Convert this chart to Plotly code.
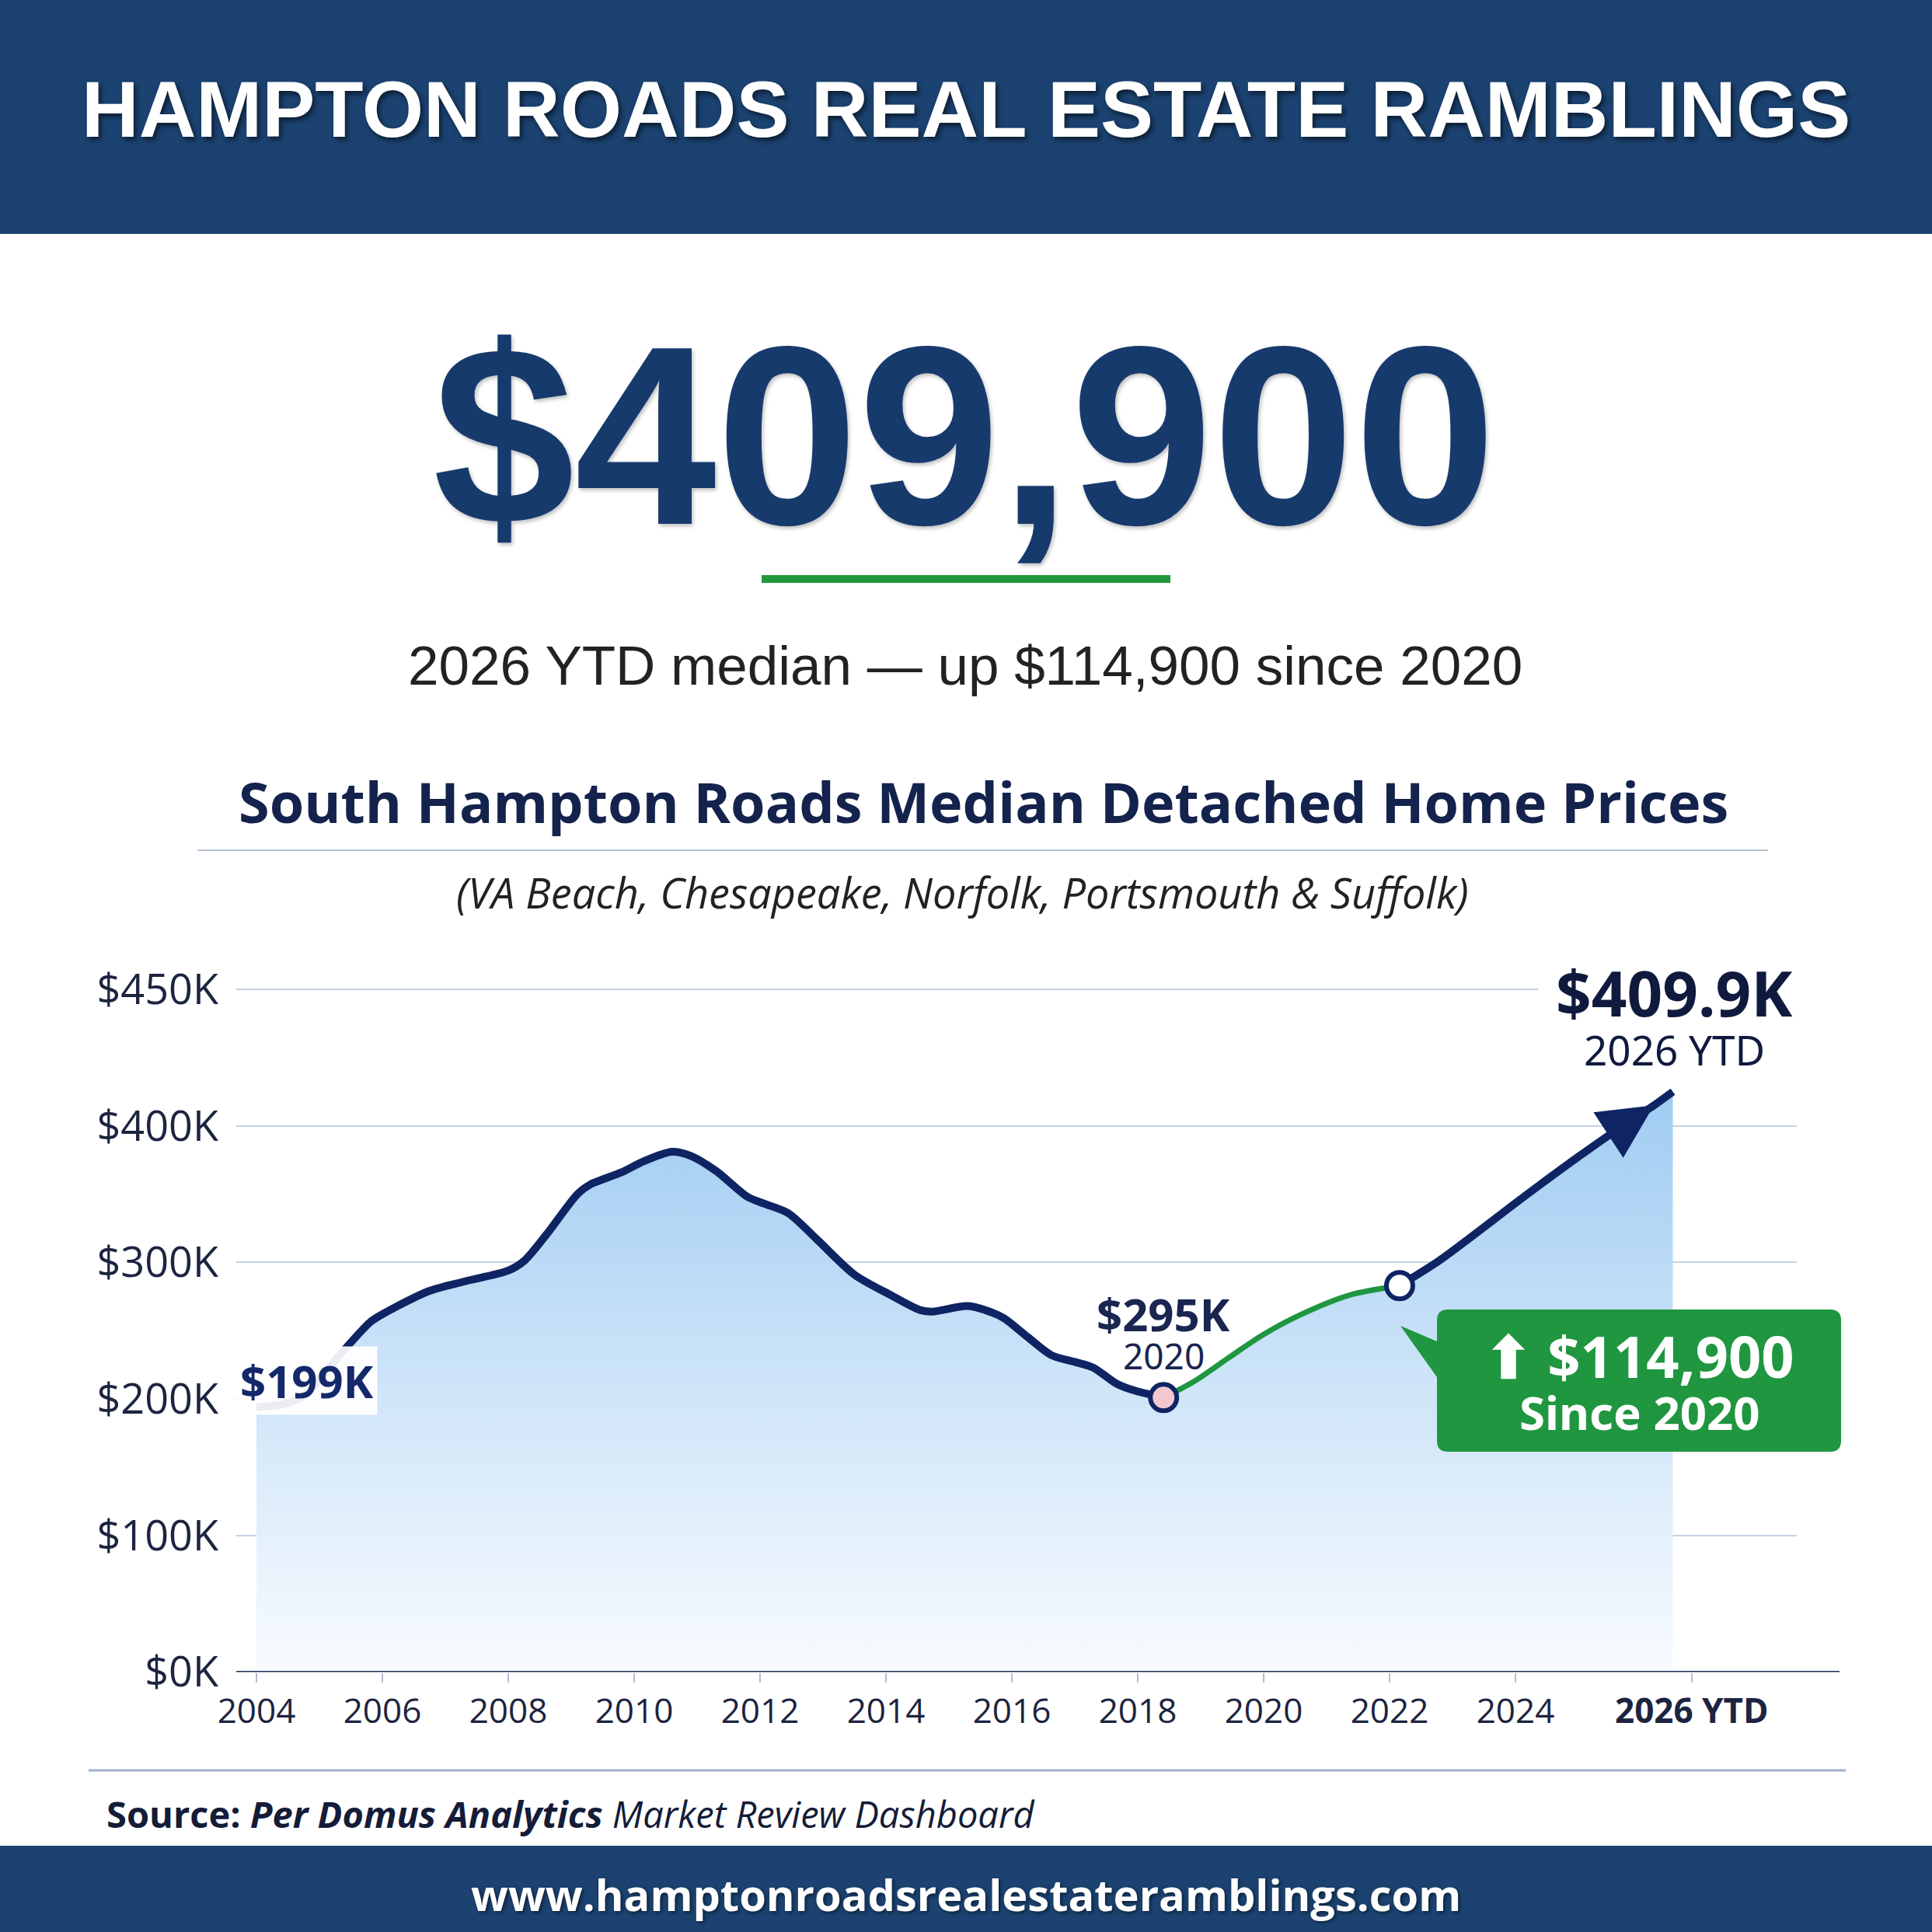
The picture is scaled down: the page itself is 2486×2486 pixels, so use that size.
import plotly.graph_objects as go

W = H = 2486

# Median detached price (y in chart units: the $450K line sits at 500)
years = [2004.0, 2004.4, 2004.75, 2005.3, 2005.8, 2006.0, 2006.74, 2007.3, 2008.0, 2008.25,
         2008.6, 2009.1, 2009.3, 2009.8, 2010.15, 2010.6, 2010.9, 2011.3, 2011.8, 2012.07,
         2012.45, 2012.9, 2013.5, 2014.08, 2014.55, 2014.74, 2015.3, 2015.7, 2015.88, 2016.26,
         2016.63, 2017.01, 2017.29, 2017.67, 2017.96, 2018.41, 2018.9, 2019.47, 2019.99, 2020.6,
         2021.36, 2022.16, 2022.78, 2023.25, 2024.19, 2025.14, 2025.9, 2026.2, 2026.5]
values = [194, 196, 202, 231, 256, 262, 279, 286, 294, 301,
          320, 350, 357, 366, 374, 381, 378, 367, 348, 343,
          336, 317, 291, 276, 265, 264, 268, 263, 259, 245,
          232, 227, 223, 211, 206, 201, 213, 231, 247, 262,
          276, 283, 301, 317, 350, 382, 406, 415, 425]

i_low = years.index(2018.41)   # "$295K 2020" marker
i_mid = years.index(2022.16)   # white marker
i_arrow = years.index(2026.2)

x_ticks = [2004, 2006, 2008, 2010, 2012, 2014, 2016, 2018, 2020, 2022, 2024, 2026.8]
x_labels = ["2004", "2006", "2008", "2010", "2012", "2014", "2016", "2018", "2020",
            "2022", "2024", "<b>2026 YTD</b>"]
y_ticks = [0, 100, 200, 300, 400, 500]
y_labels = ["$0K", "$100K", "$200K", "$300K", "$400K", "$450K"]

header = "HAMPTON ROADS REAL ESTATE RAMBLINGS"
headline = "$409,900"
subline = "2026 YTD median \u2014 up $114,900 since 2020"
chart_title = "South Hampton Roads Median Detached Home Prices"
region = "(VA Beach, Chesapeake, Norfolk, Portsmouth & Suffolk)"
start_label = "$199K"
low_label, low_year = "$295K", "2020"
end_label, end_year = "$409.9K", "2026 YTD"
gain_label, gain_sub = "\u2B06 $114,900", "Since 2020"
source = "<b>Source:</b> <b><i>Per Domus Analytics</i></b> <i>Market Review Dashboard</i>"
site = "www.hamptonroadsrealestateramblings.com"

NAVY = "#0f2463"
GREEN = "#1f963f"
BAND = "#1b4270"


def px(x):
    return x / W


def py(y):
    return 1 - y / H


fig = go.Figure()

# area fill
fig.add_trace(go.Scatter(
    x=years, y=values, mode="lines", line=dict(width=0, shape="spline", smoothing=0.8),
    fill="tozeroy",
    fillgradient=dict(type="vertical", start=0, stop=430,
                      colorscale=[[0, "#f8fbff"], [0.5, "#cde4f8"], [1, "#9ecbf2"]]),
    hoverinfo="skip", showlegend=False))

# line segments
fig.add_trace(go.Scatter(
    x=years[:i_low + 1], y=values[:i_low + 1], mode="lines",
    line=dict(color=NAVY, width=10, shape="spline", smoothing=0.8),
    hoverinfo="skip", showlegend=False))
fig.add_trace(go.Scatter(
    x=years[i_low:i_mid + 1], y=values[i_low:i_mid + 1], mode="lines",
    line=dict(color=GREEN, width=7, shape="spline", smoothing=0.8),
    hoverinfo="skip", showlegend=False))
fig.add_trace(go.Scatter(
    x=years[i_mid:], y=values[i_mid:], mode="lines",
    line=dict(color=NAVY, width=10, shape="spline", smoothing=0.8),
    hoverinfo="skip", showlegend=False))

# markers
fig.add_trace(go.Scatter(
    x=[years[i_low]], y=[values[i_low]], mode="markers",
    marker=dict(size=34, color="#f3c7cf", line=dict(color=NAVY, width=6)),
    hoverinfo="skip", showlegend=False))
fig.add_trace(go.Scatter(
    x=[years[i_mid]], y=[values[i_mid]], mode="markers",
    marker=dict(size=34, color="white", line=dict(color=NAVY, width=6)),
    hoverinfo="skip", showlegend=False))

shapes = [
    dict(type="rect", xref="paper", yref="paper", x0=0, x1=1, y0=py(301), y1=1,
         fillcolor=BAND, line=dict(width=0), layer="below"),
    dict(type="rect", xref="paper", yref="paper", x0=0, x1=1, y0=0, y1=py(2375),
         fillcolor=BAND, line=dict(width=0), layer="below"),
    dict(type="rect", xref="paper", yref="paper", x0=px(980), x1=px(1506),
         y0=py(750), y1=py(740), fillcolor="#22973c", line=dict(width=0)),
    dict(type="line", xref="paper", yref="paper", x0=px(254), x1=px(2275),
         y0=py(1094), y1=py(1094), line=dict(color="#b9c5d5", width=2)),
    dict(type="line", xref="paper", yref="paper", x0=px(114), x1=px(2375),
         y0=py(2278), y1=py(2278), line=dict(color="#9fb2c9", width=3)),
    dict(type="line", xref="paper", yref="y", x0=px(304), x1=px(2367),
         y0=0, y1=0, line=dict(color="#1c2a5a", width=3)),
]

# green callout with rounded corners and pointer
bx0, bx1, by0, by1, r = 1849, 2369, 1685, 1868, 14
pts = [
    f"M{px(bx0 + r)},{py(by0)}",
    f"L{px(bx1 - r)},{py(by0)}", f"Q{px(bx1)},{py(by0)} {px(bx1)},{py(by0 + r)}",
    f"L{px(bx1)},{py(by1 - r)}", f"Q{px(bx1)},{py(by1)} {px(bx1 - r)},{py(by1)}",
    f"L{px(bx0 + r)},{py(by1)}", f"Q{px(bx0)},{py(by1)} {px(bx0)},{py(by1 - r)}",
    f"L{px(bx0)},{py(1772)}", f"L{px(1802)},{py(1706)}", f"L{px(bx0)},{py(1726)}",
    f"L{px(bx0)},{py(by0 + r)}", f"Q{px(bx0)},{py(by0)} {px(bx0 + r)},{py(by0)}", "Z",
]
shapes.append(dict(type="path", xref="paper", yref="paper", path=" ".join(pts),
                   fillcolor=GREEN, line=dict(width=0)))


def txt(text, x, y, size, color, family="Open Sans", **kw):
    return dict(text=text, x=px(x), y=py(y), xref="paper", yref="paper",
                showarrow=False, xanchor=kw.pop("xanchor", "center"),
                yanchor=kw.pop("yanchor", "middle"),
                font=dict(size=size, color=color, family=family, **kw.pop("font", {})), **kw)


annotations = [
    txt(f"<b>{header}</b>", 1243, 141, 102, "white", "Liberation Sans",
        font=dict(shadow="3px 4px 6px rgba(0,0,0,0.55)")),
    txt(f"<b>{headline}</b>", 1241, 560, 328, "#173a6d", "Liberation Sans",
        font=dict(shadow="2px 3px 5px rgba(0,0,0,0.25)")),
    txt(subline, 1242, 856, 71, "#222222", "Liberation Sans"),
    txt(f"<b>{chart_title}</b>", 1265, 1031, 72, "#14234d"),
    txt(f"<i>{region}</i>", 1238, 1148, 54, "#222222"),
    txt(source, 135, 2334, 47, "#141c38", xanchor="left"),
    txt(f"<b>{site}</b>", 1243, 2437, 56, "white",
        font=dict(shadow="2px 2px 4px rgba(0,0,0,0.5)")),
    txt(f"<b>{gain_label}</b>", 2109, 1744, 74, "white", "Noto Sans"),
    txt(f"<b>{gain_sub}</b>", 2110, 1817, 60, "white", "Noto Sans"),
    # data labels
    dict(text=f"<b>{start_label}</b>", x=years[0], y=values[0], xref="x", yref="y",
         showarrow=False, xanchor="left", yanchor="middle", xshift=-26, yshift=34,
         bgcolor="rgba(255,255,255,0.92)", borderpad=4,
         font=dict(size=58, color="#14296b", family="Noto Sans")),
    dict(text=f"<b>{low_label}</b>", x=years[i_low], y=values[i_low], xref="x", yref="y",
         showarrow=False, xanchor="center", yanchor="middle", yshift=108,
         font=dict(size=58, color="#1a2550", family="Noto Sans")),
    dict(text=low_year, x=years[i_low], y=values[i_low], xref="x", yref="y",
         showarrow=False, xanchor="center", yanchor="middle", yshift=54,
         font=dict(size=46, color="#1a2550", family="Noto Sans")),
    dict(text=f"<b>{end_label}</b>", x=years[-1], y=values[-1], xref="x", yref="y",
         showarrow=False, xanchor="center", yanchor="middle", xshift=2, yshift=128,
         bgcolor="white", borderpad=22,
         font=dict(size=80, color="#101a3e", family="Noto Sans")),
    dict(text=end_year, x=years[-1], y=values[-1], xref="x", yref="y",
         showarrow=False, xanchor="center", yanchor="middle", xshift=2, yshift=54,
         font=dict(size=53, color="#101a3e", family="Noto Sans")),
    # arrow head at the end of the line
    dict(text="", x=years[i_arrow], y=values[i_arrow], ax=years[i_arrow - 1], ay=values[i_arrow - 1],
         xref="x", yref="y", axref="x", ayref="y", showarrow=True, arrowhead=2,
         arrowsize=1.4, arrowwidth=10, arrowcolor=NAVY, standoff=0),
]

fig.update_layout(
    width=W, height=H, margin=dict(l=0, r=0, t=0, b=0, pad=0),
    paper_bgcolor="white", plot_bgcolor="rgba(0,0,0,0)",
    showlegend=False, hovermode=False,
    shapes=shapes, annotations=annotations,
    xaxis=dict(domain=[px(304), px(2312)], range=[2003.679, 2028.469], automargin=False,
               tickvals=x_ticks, ticktext=x_labels, showgrid=False, zeroline=False,
               ticks="outside", ticklen=12, tickwidth=2, tickcolor="#b0bccc",
               ticklabelstandoff=0,
               tickfont=dict(size=44, color="#1c2440", family="Open Sans")),
    yaxis=dict(domain=[py(2151.5), py(1202.7)], range=[0, 540], automargin=False,
               tickvals=y_ticks, ticktext=y_labels, showgrid=True,
               gridcolor="#c6d1e1", gridwidth=2, zeroline=False,
               ticklabelstandoff=22,
               tickfont=dict(size=54, color="#1c2440", family="Open Sans")),
)

fig.write_html("out.html",
               post_script="document.body.style.margin='0';document.body.style.overflow='hidden';",
               config={"displayModeBar": False})
